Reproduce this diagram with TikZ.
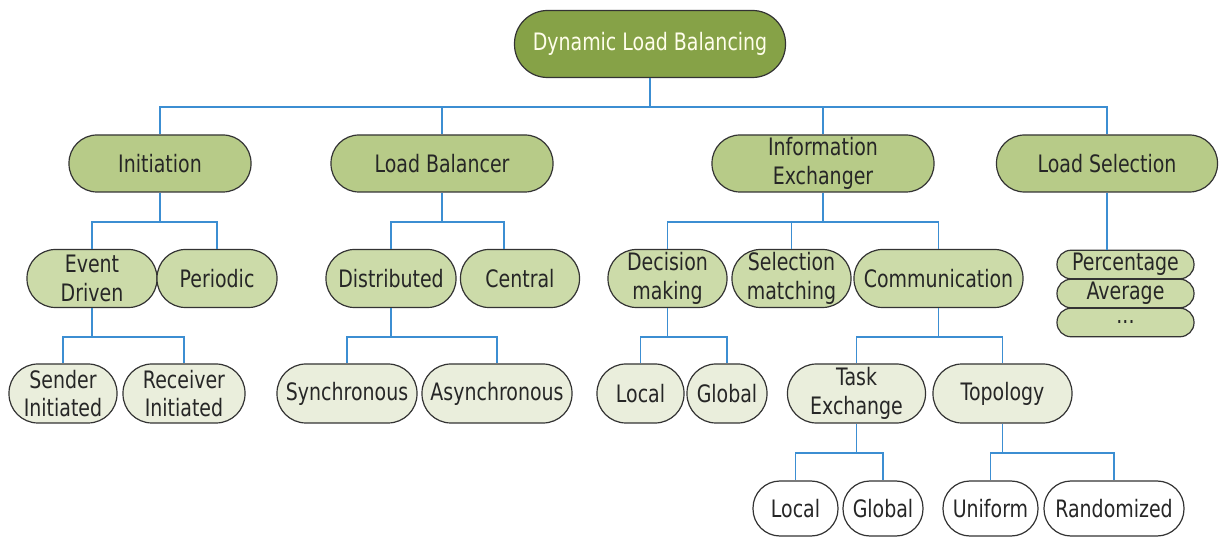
\documentclass[tikz,border=0pt]{standalone}
\usepackage{fontspec}
\setmainfont{DejaVu Sans}[FakeStretch=0.79]
\usetikzlibrary{calc}
\definecolor{rootfill}{HTML}{86A247}
\definecolor{lonefill}{HTML}{B7CB88}
\definecolor{ltwofill}{HTML}{CCDBA9}
\definecolor{lthreefill}{HTML}{EAEEDC}
\definecolor{linkblue}{HTML}{3C8ED2}
\definecolor{edgegray}{HTML}{333333}
\tikzset{
  x=1pt, y=-1pt,
  pill/.style={draw=edgegray, line width=1.2pt, inner sep=0pt, align=center,
    font=\fontsize{24}{28.5}\selectfont, text=black!85},
  rootbox/.style={pill, fill=rootfill, minimum height=67pt, rounded corners=33pt, text=white!92!yellow},
  oneb/.style={pill, fill=lonefill, minimum height=57pt, rounded corners=28pt},
  twob/.style={pill, fill=ltwofill, minimum height=58pt, rounded corners=28.5pt},
  stackb/.style={pill, fill=ltwofill, minimum height=28.5pt, rounded corners=14pt, minimum width=137pt},
  threeb/.style={pill, fill=lthreefill, minimum height=59pt, rounded corners=29pt},
  fourb/.style={pill, fill=white, minimum height=55pt, rounded corners=27pt},
  conn/.style={draw=linkblue, line width=1.9pt}
}
\begin{document}
\begin{tikzpicture}
\useasboundingbox (0,0) rectangle (1219,537);
% root
\node[rootbox, minimum width=271pt] (root) at (650,44) {Dynamic Load Balancing};
% level 1
\node[oneb, minimum width=182pt] (init) at (160,163.5) {Initiation};
\node[oneb, minimum width=222pt] (lb) at (442,163.5) {Load Balancer};
\node[oneb, minimum width=222pt] (ie) at (823,163.5) {Information\\Exchanger};
\node[oneb, minimum width=221pt] (ls) at (1107,163.5) {Load Selection};
% level 2
\node[twob, minimum width=130pt] (ev) at (92,278.5) {Event\\Driven};
\node[twob, minimum width=120pt] (per) at (217,278.5) {Periodic};
\node[twob, minimum width=130pt] (dist) at (391,278.5) {Distributed};
\node[twob, minimum width=119pt] (cen) at (520,278.5) {Central};
\node[twob, minimum width=119pt] (dec) at (667.5,278.5) {Decision\\making};
\node[twob, minimum width=119pt] (sel) at (791.5,278.5) {Selection\\matching};
\node[twob, minimum width=169pt] (com) at (938.5,278.5) {Communication};
\node[stackb] (pct) at (1125.5,264.5) {Percentage};
\node[stackb] (avg) at (1125.5,293.5) {Average};
\node[stackb] (dots) at (1125.5,322.5) {...};
% level 3
\node[threeb, minimum width=108pt] (snd) at (63,393.5) {Sender\\Initiated};
\node[threeb, minimum width=122pt] (rcv) at (184,393.5) {Receiver\\Initiated};
\node[threeb, minimum width=140pt] (syn) at (347,393.5) {Synchronous};
\node[threeb, minimum width=150pt] (asy) at (497,393.5) {Asynchronous};
\node[threeb, minimum width=87pt] (loca) at (640.5,393.5) {Local};
\node[threeb, minimum width=80pt] (gloa) at (727,393.5) {Global};
\node[threeb, minimum width=138pt] (task) at (856.5,393.5) {Task\\Exchange};
\node[threeb, minimum width=139pt] (topo) at (1002.5,393.5) {Topology};
% level 4
\node[fourb, minimum width=85pt] (locb) at (795.5,508.5) {Local};
\node[fourb, minimum width=80pt] (glob) at (883,508.5) {Global};
\node[fourb, minimum width=95pt] (uni) at (990.5,508.5) {Uniform};
\node[fourb, minimum width=140pt] (rnd) at (1114,508.5) {Randomized};
% connectors
\foreach \c in {init,lb,ie,ls}{\draw[conn] (root.south) -- ++(0,29) -| (\c.north);}
\foreach \c in {ev,per}{\draw[conn] (init.south) -- ++(0,29) -| (\c.north);}
\draw[conn] (lb.south) -- ++(0,29) -| (dist.north);
\draw[conn] (lb.south) -- ++(0,29) -| ([xshift=-16pt]cen.north);
\foreach \c in {dec,sel,com}{\draw[conn] (ie.south) -- ++(0,29) -| (\c.north);}
\draw[conn] (ls.south) -- (ls.south |- pct.north);
\foreach \c in {snd,rcv}{\draw[conn] (ev.south) -- ++(0,29) -| (\c.north);}
\foreach \c in {syn,asy}{\draw[conn] (dist.south) -- ++(0,29) -| (\c.north);}
\foreach \c in {loca,gloa}{\draw[conn] (dec.south) -- ++(0,29) -| (\c.north);}
\foreach \c in {task,topo}{\draw[conn] (com.south) -- ++(0,29) -| (\c.north);}
\foreach \c in {locb,glob}{\draw[conn] (task.south) -- ++(0,29) -| (\c.north);}
\foreach \c in {uni,rnd}{\draw[conn] (topo.south) -- ++(0,29) -| (\c.north);}
\end{tikzpicture}
\end{document}
